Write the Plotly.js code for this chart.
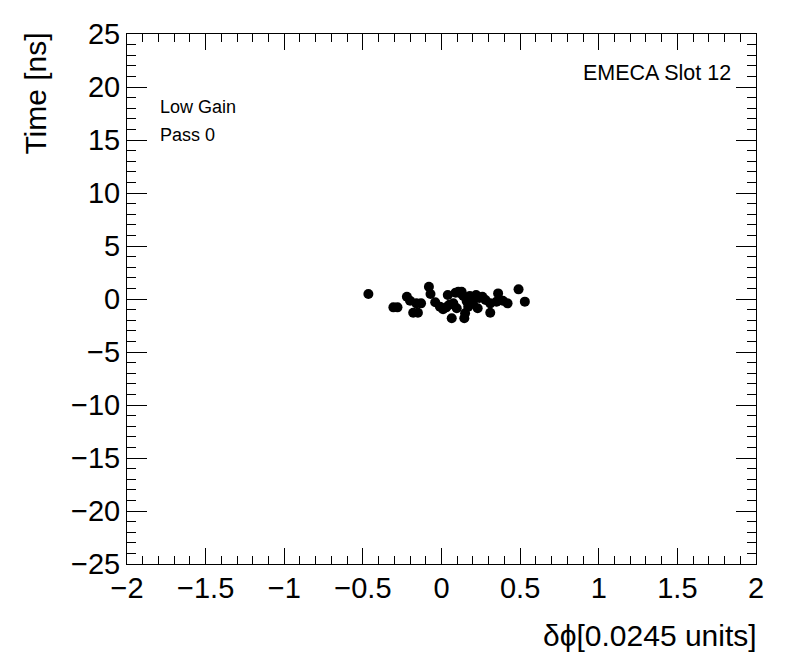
<!DOCTYPE html>
<html>
<head>
<meta charset="utf-8">
<script src="https://cdn.plot.ly/plotly-3.0.1.min.js"></script>
<style>html,body{margin:0;padding:0;background:#fff;}#plot{width:796px;height:672px;}</style>
</head>
<body>
<div id="plot"></div>
<script>
// Data points (δφ in 0.0245 units, time in ns)
const dphi = [-0.465, -0.306, -0.28, -0.22, -0.20, -0.18, -0.15, -0.16, -0.13, -0.08, -0.07,
  -0.01, 0.01, 0.04, 0.065, 0.075, 0.107, 0.128, 0.139, 0.097, 0.15, 0.145, 0.18, 0.20, 0.17,
  0.22, 0.23, 0.26, 0.28, 0.31, 0.31, 0.36, 0.35, 0.39, 0.42, 0.49, 0.53, 0.03, 0.12, 0.24,
  0.09, 0.16, 0.19, 0.05, -0.04];
const timeNs = [0.47, -0.79, -0.79, 0.22, -0.16, -1.29, -1.29, -0.41, -0.41, 1.16, 0.47,
  -0.72, -0.97, 0.38, -1.82, -0.41, 0.69, 0.69, 0.28, -0.88, -1.35, -1.82, 0.28, -0.41, -0.72,
  0.38, -0.88, 0.22, -0.09, -1.29, -0.41, 0.53, -0.25, -0.16, -0.41, 0.91, -0.25, -0.79, 0.55, 0.10,
  0.60, -0.20, 0.05, -0.55, -0.30];
const xTickVals = [-2, -1.5, -1, -0.5, 0, 0.5, 1, 1.5, 2];
const yTickVals = [-25, -20, -15, -10, -5, 0, 5, 10, 15, 20, 25];

const font = 'Liberation Sans, Arial, Helvetica, sans-serif';
const fmt = v => String(v).replace('-', '\u2212');

const trace = {
  x: dphi, y: timeNs, mode: 'markers', type: 'scatter',
  marker: {color: '#000', size: 10, symbol: 'circle'},
  hoverinfo: 'skip'
};

const layout = {
  width: 796, height: 672,
  margin: {l: 127, r: 40, t: 34, b: 108},
  paper_bgcolor: '#fff', plot_bgcolor: '#fff',
  showlegend: false,
  font: {family: font, color: '#000'},
  xaxis: {
    range: [-2, 2], tickvals: xTickVals, ticktext: xTickVals.map(fmt),
    ticks: 'inside', ticklen: 16, tickwidth: 1, tickcolor: '#000',
    showline: true, linecolor: '#000', linewidth: 1, mirror: 'allticks',
    showgrid: false, zeroline: false, ticklabelstandoff: -2,
    tickfont: {size: 29, family: font, color: '#000'},
    minor: {dtick: 0.1, tick0: 0, ticks: 'inside', ticklen: 8, tickcolor: '#000', tickwidth: 1, showgrid: false}
  },
  yaxis: {
    range: [-25, 25], tickvals: yTickVals, ticktext: yTickVals.map(fmt),
    ticks: 'inside', ticklen: 20, tickwidth: 1, tickcolor: '#000',
    showline: true, linecolor: '#000', linewidth: 1, mirror: 'allticks',
    showgrid: false, zeroline: false,
    tickfont: {size: 29, family: font, color: '#000'},
    minor: {dtick: 1, tick0: 0, ticks: 'inside', ticklen: 9, tickcolor: '#000', tickwidth: 1, showgrid: false}
  },
  annotations: [
    {text: 'Time [ns]', xref: 'paper', yref: 'paper', x: -0.145, y: 1.006, xanchor: 'center', yanchor: 'top',
      textangle: -90, showarrow: false, font: {size: 30, family: font, color: '#000'}},
    {text: '\u03b4\u03d5[0.0245 units]', xref: 'paper', yref: 'paper', x: 1.004, y: -0.135, xanchor: 'right', yanchor: 'middle',
      showarrow: false, font: {size: 30, family: font, color: '#000'}},
    {text: 'Low Gain', xref: 'paper', yref: 'paper', x: 0.049, y: 0.862, xanchor: 'left', yanchor: 'middle',
      showarrow: false, font: {size: 18, family: font, color: '#000'}},
    {text: 'Pass 0', xref: 'paper', yref: 'paper', x: 0.049, y: 0.809, xanchor: 'left', yanchor: 'middle',
      showarrow: false, font: {size: 18, family: font, color: '#000'}},
    {text: 'EMECA Slot 12', xref: 'paper', yref: 'paper', x: 0.963, y: 0.926, xanchor: 'right', yanchor: 'middle',
      showarrow: false, font: {size: 21.5, family: font, color: '#000'}}
  ]
};

Plotly.newPlot('plot', [trace], layout, {staticPlot: true, displayModeBar: false});
</script>
</body>
</html>
